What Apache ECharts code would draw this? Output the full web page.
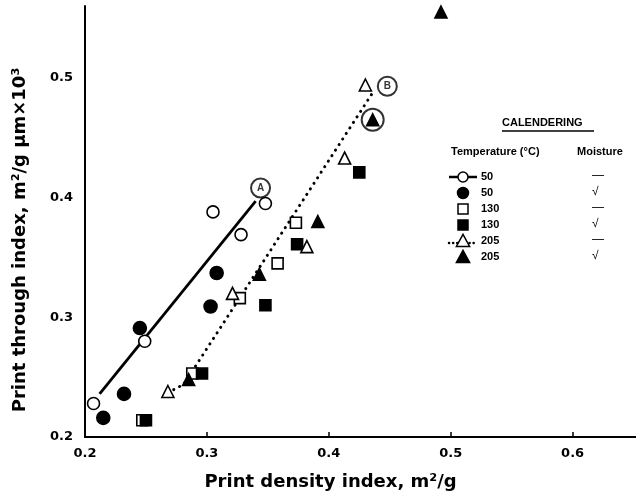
<!DOCTYPE html>
<html><head><meta charset="utf-8">
<script src="https://cdn.jsdelivr.net/npm/echarts@6/dist/echarts.min.js"></script>
<style>html,body{margin:0;padding:0;background:#fff}#c{width:636px;height:497px}</style>
</head><body><div id="c"></div>
<script>
// tick labels
const xTickLabels = ['0.2', '0.3', '0.4', '0.5', '0.6'];
const yTickLabels = ['0.2', '0.3', '0.4', '0.5'];
// series values [print density index, print through index]
const open50 = [[0.207, 0.228], [0.249, 0.280], [0.305, 0.388], [0.328, 0.369], [0.348, 0.395]];
const filled50 = [[0.215, 0.216], [0.232, 0.236], [0.245, 0.291], [0.303, 0.309], [0.308, 0.337]];
const open130 = [[0.247, 0.214], [0.288, 0.253], [0.327, 0.316], [0.358, 0.345], [0.373, 0.379]];
const filled130 = [[0.250, 0.214], [0.296, 0.253], [0.348, 0.310], [0.374, 0.361], [0.425, 0.421]];
const open205 = [[0.268, 0.238], [0.321, 0.320], [0.382, 0.359], [0.413, 0.433], [0.430, 0.494]];
const filled205 = [[0.285, 0.248], [0.343, 0.336], [0.391, 0.380], [0.436, 0.465], [0.492, 0.555]];
// fitted lines
const lineA = [[0.212, 0.236], [0.340, 0.397]];
const lineB = [[0.268, 0.237], [0.281, 0.244], [0.435, 0.486]];
// annotations
const markA = [[0.344, 0.408]];
const markB = [[0.448, 0.493]];
const ringed = [[0.436, 0.465]];
// legend
const legendTemps = ['50', '50', '130', '130', '205', '205'];
const legendMoisture = ['—', '√', '—', '√', '—', '√'];

const FONT = 'Liberation Sans';
const HEAVY = 'DejaVu Sans';
const chart = echarts.init(document.getElementById('c'), null, {renderer: 'canvas'});

function fmt(labels) {
  return function (v) {
    const s = v.toFixed(1);
    return labels.indexOf(s) >= 0 ? s : '';
  };
}

const rowsY = [177, 193, 209, 225, 241, 257];
const symX = 463;
const g = [];
g.push({type: 'text', x: 20, y: 240, rotation: Math.PI / 2,
  style: {text: 'Print through index, m²/g µm×10³', font: 'bold 18px ' + HEAVY, fill: '#000', align: 'center', verticalAlign: 'middle'}});
g.push({type: 'text', left: 502, top: 117, style: {text: 'CALENDERING', font: 'bold 11px ' + FONT, fill: '#000'}});
g.push({type: 'line', shape: {x1: 502, y1: 131, x2: 594, y2: 131}, style: {stroke: '#000', lineWidth: 1.5}});
g.push({type: 'text', left: 451, top: 146, style: {text: 'Temperature (°C)', font: 'bold 11px ' + FONT, fill: '#000'}});
g.push({type: 'text', left: 577, top: 146, style: {text: 'Moisture', font: 'bold 11px ' + FONT, fill: '#000'}});
const blk = {fill: '#000', stroke: '#000', lineWidth: 1.5};
const wht = {fill: '#fff', stroke: '#000', lineWidth: 1.5};
function tri(cx, cy, s) {
  return [[cx, cy - s * 0.55], [cx + s * 0.55, cy + s * 0.45], [cx - s * 0.55, cy + s * 0.45]];
}
rowsY.forEach(function (y, i) {
  if (i === 0) {
    g.push({type: 'line', shape: {x1: 449, y1: y, x2: 477, y2: y}, style: {stroke: '#000', lineWidth: 2.5}});
    g.push({type: 'circle', shape: {cx: symX, cy: y, r: 5}, style: wht});
  } else if (i === 1) {
    g.push({type: 'circle', shape: {cx: symX, cy: y, r: 5.5}, style: blk});
  } else if (i === 2) {
    g.push({type: 'rect', shape: {x: symX - 5, y: y - 5, width: 10, height: 10}, style: wht});
  } else if (i === 3) {
    g.push({type: 'rect', shape: {x: symX - 5, y: y - 5, width: 10, height: 10}, style: blk});
  } else if (i === 4) {
    g.push({type: 'line', shape: {x1: 449, y1: y + 2, x2: 477, y2: y + 2}, style: {stroke: '#000', lineWidth: 2.5, lineDash: [0.1, 4], lineCap: 'round'}});
    g.push({type: 'polygon', shape: {points: tri(symX, y, 12)}, style: wht});
  } else {
    g.push({type: 'polygon', shape: {points: tri(symX, y, 12)}, style: blk});
  }
  g.push({type: 'text', left: 481, top: y - 6, style: {text: legendTemps[i], font: 'bold 11px ' + FONT, fill: '#000'}});
  g.push({type: 'text', left: 592, top: y - 7, style: {text: legendMoisture[i], font: '12px ' + FONT, fill: '#000'}});
});

function scatter(data, symbol, size, filled, z) {
  return {
    type: 'scatter', data: data, symbol: symbol, symbolSize: size, z: z || 3,
    itemStyle: {color: filled ? '#000' : '#fff', borderColor: '#000', borderWidth: 1.6, opacity: 1},
    emphasis: {disabled: true}
  };
}

const option = {
  animation: false,
  backgroundColor: '#fff',
  grid: {left: 85, right: 0, top: 6, bottom: 60, containLabel: false},
  xAxis: {
    type: 'value', min: 0.2, max: 0.652, interval: 0.1,
    name: 'Print density index, m²/g', nameLocation: 'middle', nameGap: 36,
    nameTextStyle: {fontFamily: HEAVY, fontWeight: 'bold', fontSize: 18, color: '#000', padding: [0, 60, 0, 0]},
    axisLine: {show: true, lineStyle: {color: '#000', width: 2}},
    axisTick: {show: true, inside: true, length: 5, lineStyle: {color: '#000', width: 1.5}},
    axisLabel: {formatter: fmt(xTickLabels), showMaxLabel: false, fontFamily: HEAVY, fontWeight: 'bold', fontSize: 13, color: '#000', margin: 10},
    splitLine: {show: false}
  },
  yAxis: {
    type: 'value', min: 0.2, max: 0.56, interval: 0.1,
    axisLine: {show: true, lineStyle: {color: '#000', width: 2}},
    axisTick: {show: false},
    axisLabel: {formatter: fmt(yTickLabels), showMaxLabel: false, fontFamily: HEAVY, fontWeight: 'bold', fontSize: 13, color: '#000', margin: 12},
    splitLine: {show: false}
  },
  series: [
    {type: 'line', data: lineA, symbol: 'none', lineStyle: {color: '#000', width: 2.8}, z: 2},
    {type: 'line', data: lineB, symbol: 'none', lineStyle: {color: '#000', width: 3, type: [0.1, 6.5], cap: 'round'}, z: 2},
    scatter(open50, 'circle', 12, false),
    scatter(filled50, 'circle', 13, true),
    scatter(open130, 'rect', 11, false),
    scatter(filled130, 'rect', 11, true),
    scatter(open205, 'triangle', 12, false),
    {type: 'scatter', data: ringed, symbol: 'circle', symbolSize: 22, z: 3,
      itemStyle: {color: '#fff', borderColor: '#000', borderWidth: 2}},
    scatter(filled205, 'triangle', 12, true, 4),
    {type: 'scatter', data: markA, symbol: 'circle', symbolSize: 19, z: 4,
      itemStyle: {color: '#fff', borderColor: '#000', borderWidth: 2},
      label: {show: true, position: 'inside', formatter: 'A', fontFamily: FONT, fontWeight: 'bold', fontSize: 10, color: '#000'}},
    {type: 'scatter', data: markB, symbol: 'circle', symbolSize: 19, z: 4,
      itemStyle: {color: '#fff', borderColor: '#000', borderWidth: 2},
      label: {show: true, position: 'inside', formatter: 'B', fontFamily: FONT, fontWeight: 'bold', fontSize: 10, color: '#000'}}
  ],
  graphic: g
};
chart.setOption(option);
</script>
</body></html>
